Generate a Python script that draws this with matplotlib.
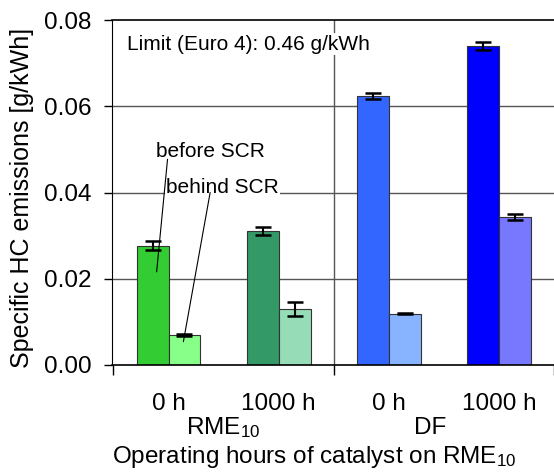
import numpy as np
import matplotlib.pyplot as plt
import matplotlib.transforms as mtransforms

plt.rcParams['font.family'] = ['Liberation Sans', 'DejaVu Sans']
plt.rcParams['mathtext.fontset'] = 'custom'
plt.rcParams['mathtext.rm'] = 'Liberation Sans'
plt.rcParams['mathtext.it'] = 'Liberation Sans:italic'

# data
groups = ['0 h', '1000 h', '0 h', '1000 h']
before_scr = [0.0277, 0.0311, 0.0623, 0.0740]
before_err = [0.0010, 0.0009, 0.0007, 0.0010]
behind_scr = [0.0070, 0.0130, 0.0119, 0.0344]
behind_err = [0.0002, 0.0017, 0.0001, 0.0007]
before_colors = ['#33cc33', '#339966', '#3366ff', '#0000ff']
behind_colors = ['#88ff88', '#96dcb6', '#88b4ff', '#7878ff']

x = np.arange(len(groups))
w = 0.29
big = 17.5
small = 15
H = 472.0

fig = plt.figure(figsize=(5.54, 4.72), dpi=100)
ax = fig.add_axes([0.202, 0.2267, 0.798, 0.7309])

for y in [0.02, 0.04, 0.06]:
    ax.axhline(y, color='#555555', linewidth=1, zorder=0)
ax.axvline(1.5, color='#555555', linewidth=1, zorder=0)

ax.bar(x - w / 2, before_scr, w, color=before_colors, edgecolor='#333333', linewidth=0.8, zorder=2)
ax.bar(x + w / 2, behind_scr, w, color=behind_colors, edgecolor='#333333', linewidth=0.8, zorder=2)
ax.errorbar(x - w / 2, before_scr, yerr=before_err, fmt='none', ecolor='black',
            elinewidth=1.5, capsize=5.5, capthick=1.8, zorder=3)
ax.errorbar(x + w / 2, behind_scr, yerr=behind_err, fmt='none', ecolor='black',
            elinewidth=1.5, capsize=5.5, capthick=1.8, zorder=3)

ax.set_xlim(-0.514, 3.47)
ax.set_ylim(0, 0.08)
ax.set_yticks([0, 0.02, 0.04, 0.06, 0.08])
ax.set_yticklabels(['0.00', '0.02', '0.04', '0.06', '0.08'], fontsize=big)
ax.tick_params(axis='y', direction='out', length=5.8, width=1, pad=9)
ax.set_xticks([-0.5, 1.5, 3.5])
ax.set_xticklabels([])
ax.tick_params(axis='x', direction='out', length=7.5, width=1)
ax.spines['right'].set_visible(False)
ax.spines['bottom'].set_linewidth(1.2)
ax.spines['top'].set_linewidth(1.2)

# category labels below the axis (x in data, y in figure pixels)
trans = mtransforms.blended_transform_factory(ax.transData, fig.transFigure)
for xi, lab in zip(x, groups):
    ax.text(xi, 1 - 410 / H, lab, ha='center', va='baseline', fontsize=big, transform=trans)
ax.text(0.5, 1 - 434 / H, 'RME$_{10}$', ha='center', va='baseline', fontsize=big, transform=trans)
ax.text(2.38, 1 - 434 / H, 'DF', ha='center', va='baseline', fontsize=big, transform=trans)
fig.text(0.567, 1 - 463 / H, 'Operating hours of catalyst on RME$_{10}$', ha='center', va='baseline',
         fontsize=big)
fig.text(22 / 554, 1 - 198 / H, 'Specific HC emissions [g/kWh]', rotation=90, ha='center', va='center',
         fontsize=18)

ax.text(-0.38, 0.0744, 'Limit (Euro 4): 0.46 g/kWh', ha='left', va='center', fontsize=small,
        bbox=dict(facecolor='white', edgecolor='none', pad=1), zorder=4)

ax.annotate('', xy=(-0.108, 0.0216), xytext=(-0.009, 0.0477),
            arrowprops=dict(arrowstyle='-', color='black', lw=0.8, shrinkA=0, shrinkB=0), zorder=5)
ax.annotate('', xy=(0.135, 0.0054), xytext=(0.378, 0.0400),
            arrowprops=dict(arrowstyle='-', color='black', lw=0.8, shrinkA=0, shrinkB=0), zorder=5)
ax.text(0.38, 0.0495, 'before SCR', ha='center', va='center', fontsize=small, zorder=4)
ax.text(0.49, 0.0412, 'behind SCR', ha='center', va='center', fontsize=small,
        bbox=dict(facecolor='white', edgecolor='none', pad=1), zorder=4)

fig.savefig('out.png', dpi=100)
